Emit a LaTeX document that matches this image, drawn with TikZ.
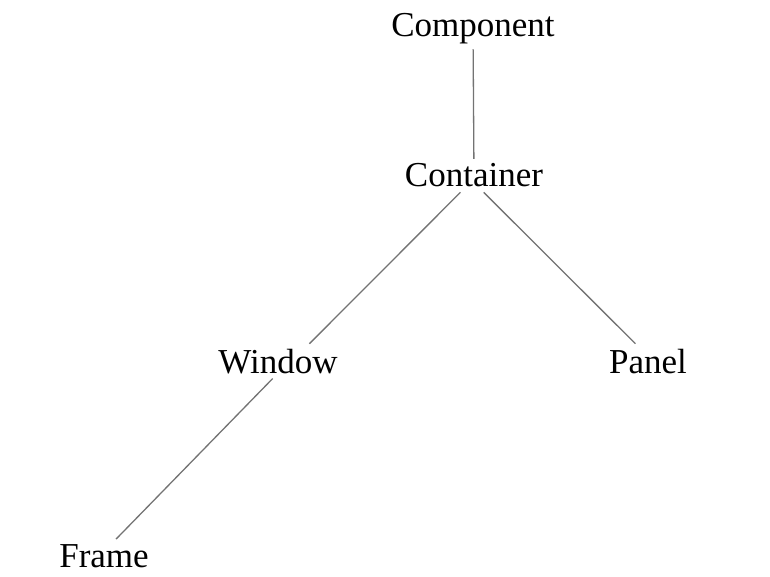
\documentclass[tikz,border=0pt]{standalone}
\usepackage{fontspec}
\setmainfont{Liberation Serif}
\begin{document}
\begin{tikzpicture}[x=1pt,y=-1pt]

%% some definitions
\tikzset{cls/.style={font=\fontsize{35}{40}\selectfont, inner sep=5pt, outer sep=0pt}}
\tikzset{link/.style={draw=black!55, line width=1.3pt}}

% page size of the reference
\useasboundingbox (0,0) rectangle (770,577);

%% class nodes (base line at the given point)
\node[cls, anchor=base] (comp) at (473,37) {Component};
\node[cls, anchor=base] (ctr) at (474,187) {Container};
\node[cls, anchor=base] (win) at (278,373) {Window};
\node[cls, anchor=base] (pnl) at (648,373) {Panel};
\node[cls, anchor=base] (frm) at (104,567) {Frame};

%% inheritance lines (anchors keep them at 45 degrees)
\draw[link] (comp) -- (ctr);
\draw[link] (ctr.231) -- (win.29);
\draw[link] (ctr.300) -- (pnl.126);
\draw[link] (win.253) -- (frm.54);

\end{tikzpicture}
\end{document}
